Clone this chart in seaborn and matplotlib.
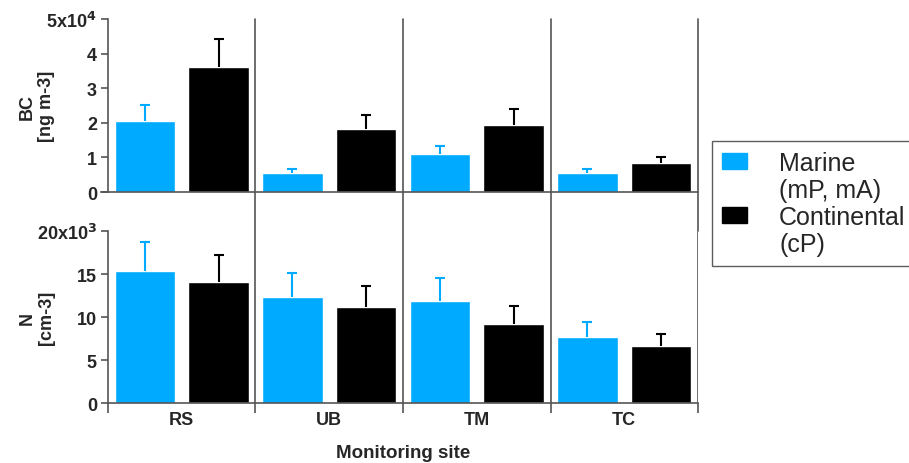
"""BC and N by monitoring site, marine vs continental air masses."""

import matplotlib
matplotlib.use("Agg")
import matplotlib.pyplot as plt
import numpy as np
import pandas as pd
import seaborn as sns

sites = ["RS", "UB", "TM", "TC"]
air_masses = ["Marine\n(mP, mA)", "Continental\n(cP)"]

# BC in units of 1e4 ng m-3
bc_marine = [2.05, 0.54, 1.09, 0.54]
bc_marine_err = [0.47, 0.12, 0.25, 0.13]
bc_cont = [3.61, 1.81, 1.95, 0.83]
bc_cont_err = [0.81, 0.42, 0.44, 0.19]

# N in units of 1e3 cm-3
n_marine = [15.38, 12.29, 11.82, 7.67]
n_marine_err = [3.38, 2.79, 2.68, 1.75]
n_cont = [14.10, 11.12, 9.19, 6.59]
n_cont_err = [3.15, 2.52, 2.05, 1.47]

colors = ["#00AAFF", "#000000"]
spine_color = "#555555"

sns.set_style("ticks")
plt.rcParams["font.family"] = ["Liberation Sans", "DejaVu Sans"]


def make_frame(marine, cont, marine_err, cont_err):
    return pd.DataFrame({
        "site": sites * 2,
        "air": [air_masses[0]] * 4 + [air_masses[1]] * 4,
        "value": marine + cont,
        "err": marine_err + cont_err,
    })


def draw_panel(ax, df, ymax, yticks, top_label, ylabel):
    sns.barplot(data=df, x="site", y="value", hue="air", hue_order=air_masses,
                order=sites, palette=colors, width=1.0, gap=0.18, errorbar=None,
                saturation=1, legend=False, ax=ax)
    # error bars (upper only), matched to bars drawn by seaborn
    bars = [p for p in ax.patches if p.get_height() > 0]
    for i, air in enumerate(air_masses):
        sub = df[df["air"] == air]
        xs = [b.get_x() + b.get_width() / 2 for b in bars[i * 4:(i + 1) * 4]]
        _, caps, _ = ax.errorbar(xs, sub["value"], yerr=[np.zeros(4), sub["err"]],
                                 fmt="none", ecolor=colors[i], elinewidth=1.5,
                                 capsize=3.5, capthick=1.5, zorder=3)
        caps[0].set_visible(False)
    ax.set_xlim(-0.5, 3.5)
    ax.set_ylim(0, ymax)
    ax.set_yticks(yticks)
    labels = [str(int(t)) for t in yticks]
    labels[-1] = top_label
    ax.set_yticklabels(labels, fontweight="bold", fontsize=13)
    ax.set_ylabel(ylabel, fontweight="bold", fontsize=13)
    ax.set_xlabel("")
    ax.spines[["top", "right"]].set_visible(False)
    for s in ["left", "bottom"]:
        ax.spines[s].set_color(spine_color)
        ax.spines[s].set_linewidth(1.2)
    ax.tick_params(axis="y", length=5, width=1.2, color=spine_color, pad=3)
    ax.yaxis.set_label_coords(-0.09, 0.5)


fig = plt.figure(figsize=(9.09, 4.64), dpi=100)
ax_top = fig.add_axes([0.1188, 0.584, 0.6491, 0.3728])
ax_bot = fig.add_axes([0.1188, 0.1293, 0.6491, 0.3707])

draw_panel(ax_top, make_frame(bc_marine, bc_cont, bc_marine_err, bc_cont_err),
           5, [0, 1, 2, 3, 4, 5], r"5x10$^{\mathbf{4}}$", "BC\n[ng m-3]")
draw_panel(ax_bot, make_frame(n_marine, n_cont, n_marine_err, n_cont_err),
           20, [0, 5, 10, 15, 20], r"20x10$^{\mathbf{3}}$", "N\n[cm-3]")

ax_top.tick_params(axis="x", length=0, labelbottom=False)
ax_top.spines["bottom"].set_bounds(-0.55, 3.5)

# x ticks at group boundaries, site labels at group centres
ax_bot.set_xticks([-0.5, 0.5, 1.5, 2.5, 3.5])
ax_bot.set_xticklabels([])
ax_bot.set_xticks(range(4), minor=True)
ax_bot.set_xticklabels(sites, minor=True, fontweight="bold", fontsize=13)
ax_bot.tick_params(axis="x", which="major", length=7, width=1.2, color=spine_color)
ax_bot.tick_params(axis="x", which="minor", length=0, pad=6)
ax_bot.set_xlabel("Monitoring site", fontweight="bold", fontsize=13.5, labelpad=11)

gap = (0.584 - (0.1293 + 0.3707)) / 0.3728
for xb in [0.5, 1.5, 2.5, 3.5]:
    ax_top.axvline(xb, ymin=-gap, ymax=1, color=spine_color, lw=1.2, clip_on=False, zorder=0)
    ax_bot.axvline(xb, ymin=0, ymax=1, color=spine_color, lw=1.2, zorder=0)

# legend: handle sits beside the first line of each two-line label
handles, labels = [], []
for c, name in zip(colors, air_masses):
    first, second = name.split("\n")
    handles += [plt.Rectangle((0, 0), 1, 1, color=c), plt.Rectangle((0, 0), 1, 1, alpha=0)]
    labels += [first, second]
leg = fig.legend(handles, labels, loc="upper left", bbox_to_anchor=(0.783, 0.694),
                 frameon=True, fancybox=False, fontsize=18, handlelength=1.0,
                 handleheight=0.62, labelspacing=0.12, borderpad=0.4, handletextpad=1.3,
                 borderaxespad=0)
leg.get_frame().set_edgecolor("#333333")
leg.get_frame().set_linewidth(1.0)

fig.savefig("out.png", dpi=100)
